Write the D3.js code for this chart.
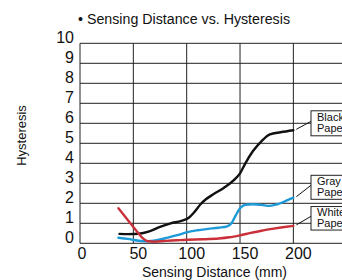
<!DOCTYPE html>
<html>
<head>
<meta charset="utf-8">
<script src="https://cdn.jsdelivr.net/npm/d3@7"></script>
<style>
  body { margin: 0; background: #fff; }
  svg { display: block; font-family: "Liberation Sans", Arial, sans-serif; }
</style>
</head>
<body>
<svg></svg>
<script>
// readings (distance in mm, hysteresis)
var blackPaper = [[37,0.47],[45,0.46],[55,0.48],[65,0.6],[75,0.82],[85,1.0],[95,1.12],[102,1.28],[107,1.55],[113,1.95],[118,2.2],[125,2.45],[135,2.78],[145,3.2],[150,3.5],[155,4.0],[162,4.6],[170,5.1],[178,5.45],[188,5.55],[200,5.65]]
var grayPaper = [[36,0.28],[45,0.22],[55,0.13],[63,0.1],[72,0.15],[82,0.28],[92,0.42],[100,0.55],[110,0.65],[120,0.72],[130,0.78],[138,0.85],[142,1.0],[146,1.4],[150,1.75],[155,1.93],[162,1.95],[170,1.92],[178,1.87],[185,1.95],[192,2.1],[200,2.28]]
var whitePaper = [[36,1.75],[42,1.35],[48,0.95],[54,0.55],[59,0.25],[64,0.1],[70,0.08],[80,0.12],[90,0.15],[100,0.18],[115,0.2],[130,0.24],[140,0.3],[150,0.4],[160,0.52],[170,0.63],[180,0.72],[190,0.8],[200,0.87]]

var seriesNames = [["Black", "Paper"], ["Gray", "Paper"], ["White", "Paper"]]
var xTicks = [0, 50, 100, 150, 200, 250]
var yTicks = [0,1,2,3,4,5,6,7,8,9,10]

var screen = {width: 342, height: 280}
var margins = {top: 43.3, left: 80}
var plotW = 266.7, plotH = 200

var svg = d3.select("svg")
  .attr("width", screen.width)
  .attr("height", screen.height)

var xScale = d3.scaleLinear().domain([0, 250]).range([margins.left, margins.left + plotW])
var yScale = d3.scaleLinear().domain([0, 10]).range([margins.top + plotH, margins.top])

// grid
svg.append("g").selectAll("line")
  .data(yTicks).enter().append("line")
  .attr("x1", xScale(0)).attr("x2", xScale(250))
  .attr("y1", function(d){return yScale(d)}).attr("y2", function(d){return yScale(d)})
  .attr("stroke", "#222").attr("stroke-width", 1)

svg.append("g").selectAll("line")
  .data(xTicks).enter().append("line")
  .attr("x1", function(d){return xScale(d)}).attr("x2", function(d){return xScale(d)})
  .attr("y1", yScale(0)).attr("y2", yScale(10))
  .attr("stroke", "#222").attr("stroke-width", 1)

// tick labels
svg.append("g").selectAll("text")
  .data(yTicks).enter().append("text")
  .attr("x", xScale(0) - 6)
  .attr("y", function(d){return yScale(d)})
  .attr("text-anchor", "end")
  .attr("font-size", 16)
  .attr("fill", "#111")
  .text(function(d){return d})

svg.append("g").selectAll("text")
  .data(xTicks.slice(0, 5)).enter().append("text")
  .attr("x", function(d){return xScale(d) + (d == 0 ? 2 : 5)})
  .attr("y", yScale(0) + 16)
  .attr("text-anchor", "middle")
  .attr("font-size", 16)
  .attr("fill", "#111")
  .text(function(d){return d})

// titles
svg.append("text")
  .attr("x", 78).attr("y", 24)
  .attr("font-size", 15.5)
  .attr("textLength", 212).attr("lengthAdjust", "spacingAndGlyphs")
  .attr("fill", "#111")
  .text("\u2022 Sensing Distance vs. Hysteresis")

svg.append("text")
  .attr("x", 142).attr("y", 277)
  .attr("font-size", 15.5)
  .attr("textLength", 145).attr("lengthAdjust", "spacingAndGlyphs")
  .attr("fill", "#111")
  .text("Sensing Distance (mm)")

svg.append("text")
  .attr("transform", "translate(26,135.5) rotate(-90)")
  .attr("text-anchor", "middle")
  .attr("font-size", 13)
  .attr("fill", "#111")
  .text("Hysteresis")

// curves
var line = d3.line()
  .x(function(d){return xScale(d[0])})
  .y(function(d){return yScale(d[1])})
  .curve(d3.curveMonotoneX)

var series = [
  {data: blackPaper, color: "#111111", box: 6.0, boxH: 25},
  {data: grayPaper, color: "#1e9ad8", box: 2.8, boxH: 24},
  {data: whitePaper, color: "#c9303a", box: 1.25, boxH: 23.5}
]

series.forEach(function(s){
  svg.append("path")
    .datum(s.data)
    .attr("d", line)
    .attr("fill", "none")
    .attr("stroke", s.color)
    .attr("stroke-width", 2.4)
    .attr("stroke-linejoin", "round")
    .attr("stroke-linecap", "round")
})

// callout boxes
var boxX = 311
series.forEach(function(s, i){
  var last = s.data[s.data.length - 1]
  var cy = yScale(s.box)
  svg.append("line")
    .attr("x1", xScale(last[0]) + 3).attr("y1", yScale(last[1]) - 1)
    .attr("x2", boxX).attr("y2", cy - 2)
    .attr("stroke", "#111").attr("stroke-width", 1)
  svg.append("rect")
    .attr("x", boxX).attr("y", cy - s.boxH / 2)
    .attr("width", 60).attr("height", s.boxH)
    .attr("fill", "#fff").attr("stroke", "#222").attr("stroke-width", 1)
  svg.append("text")
    .attr("x", boxX + 6).attr("y", cy - 2)
    .attr("font-size", 11).attr("fill", "#111")
    .text(seriesNames[i][0])
  svg.append("text")
    .attr("x", boxX + 6).attr("y", cy + 9)
    .attr("font-size", 11).attr("fill", "#111")
    .text(seriesNames[i][1])
})
</script>
</body>
</html>
